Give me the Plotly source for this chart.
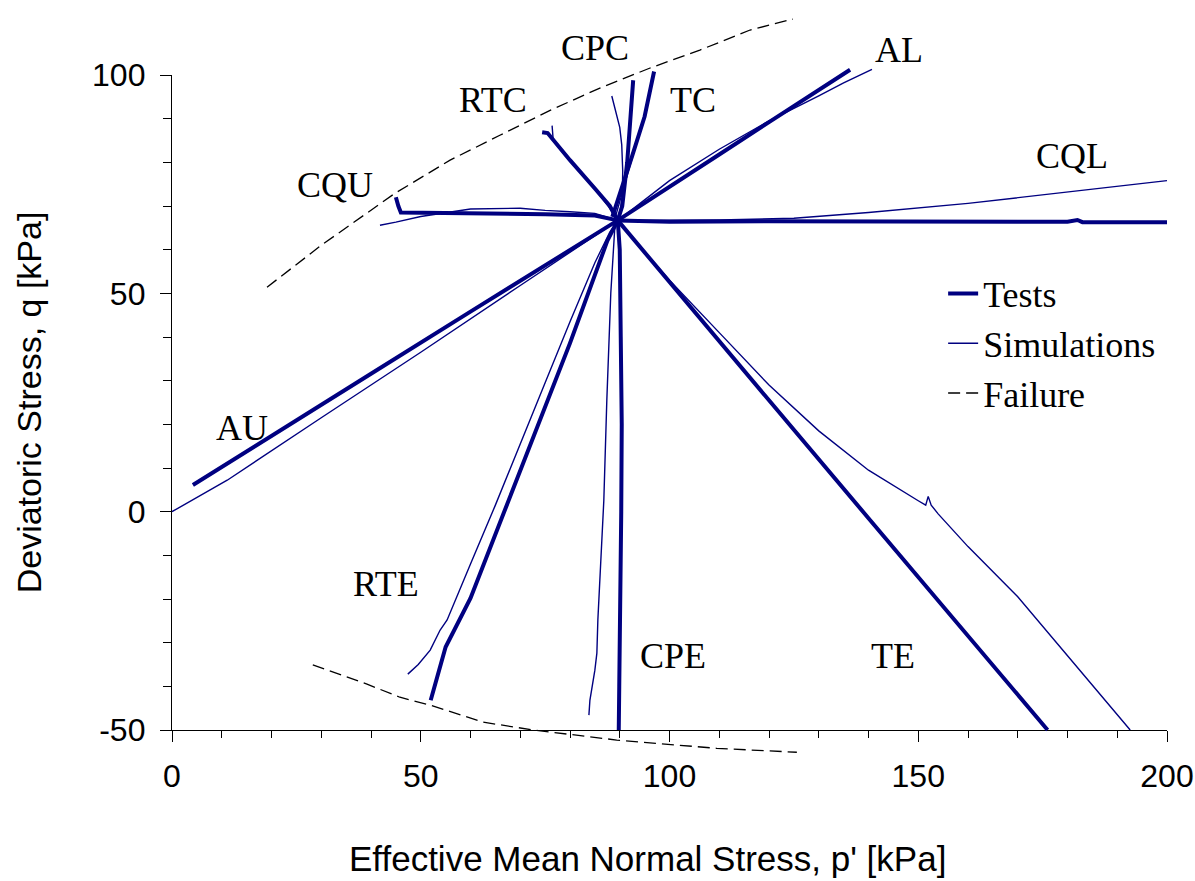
import plotly.graph_objects as go

# ---------------- data (p', q) in kPa ----------------
# Tests (thick lines)
AU_test_p = [89.6, 80, 60, 40, 20, 4.2]
AU_test_q = [66.7, 60.0, 45.8, 31.6, 17.3, 6.1]
CQU_test_p = [89.6, 85, 75, 60, 50, 46, 45.5, 45.0]
CQU_test_q = [66.7, 67.8, 68.1, 68.2, 68.3, 68.5, 70.0, 72.0]
RTC_test_p = [89.6, 88, 85, 80, 75.5, 74.4]
RTC_test_q = [66.7, 70.0, 74.0, 80.5, 86.7, 86.9]
CPC_test_p = [89.6, 90.5, 91.5, 92.2, 92.7]
CPC_test_q = [66.7, 70.0, 80.0, 90.0, 98.8]
TC_test_p = [88.5, 90.0, 92.5, 95.0, 96.9]
TC_test_q = [67.5, 72.5, 81.5, 90.5, 100.8]
AL_test_p = [89.6, 100, 110, 120, 130, 136.3]
AL_test_q = [66.7, 74.5, 81.8, 89.2, 96.4, 101.2]
CQL_test_p = [89.6, 100, 120, 140, 160, 180, 182, 183, 200]
CQL_test_q = [66.7, 66.4, 66.5, 66.4, 66.5, 66.4, 66.8, 66.3, 66.3]
TE_test_p = [89.6, 100, 120, 140, 160, 176]
TE_test_q = [66.7, 52.5, 25.5, -1.5, -28.5, -50]
CPE_test_p = [89.6, 90.0, 90.2, 90.4, 90.3, 90.0, 89.9, 89.8]
CPE_test_q = [66.7, 60, 40, 20, 0, -20, -40, -50]
RTE_test_p = [89.6, 87.5, 80, 70, 60, 55, 52]
RTE_test_q = [66.7, 62.0, 38.6, 9.4, -19.8, -31.0, -43.2]

# Simulations (thin lines)
AU_sim_p = [0, 5, 11.1, 30, 50, 70, 85, 89.6]
AU_sim_q = [0, 3.3, 7.2, 21.5, 36.5, 51.8, 63.2, 66.7]
CQU_sim_p = [41.8, 45, 50, 55, 60, 70, 75, 80, 85, 89.6]
CQU_sim_q = [65.6, 66.3, 67.6, 68.5, 69.3, 69.5, 69.0, 68.7, 68.3, 66.7]
RTC_sim_p = [89, 86, 82, 78, 76.6, 76.4]
RTC_sim_q = [68, 72.5, 78, 83, 85.5, 88.4]
CPC_sim_p = [89.8, 90.5, 90.6, 90.4, 90.0, 89.5, 89.0, 88.4]
CPC_sim_q = [67, 72, 78, 84, 88, 90, 92.5, 95.2]
TC_sim_p = [89, 90.5, 93, 95.5, 96.5]
TC_sim_q = [67, 73, 83, 93, 99.5]
AL_sim_p = [90, 95, 100, 110, 120, 130, 135, 140.7]
AL_sim_q = [67, 71.5, 75.8, 83, 89.5, 95.2, 98.2, 101.3]
CQL_sim_p = [89.6, 110, 125, 140, 160, 180, 200]
CQL_sim_q = [66.7, 66.8, 67.2, 68.5, 70.6, 73.2, 75.8]
TE_sim_p = [90, 100, 110, 120, 130, 140, 150, 151.5, 152.0, 152.6, 154, 160, 170, 180, 192.6]
TE_sim_q = [66, 53, 41, 29, 18.5, 9.5, 2.5, 1.5, 3.5, 1.5, -0.5, -8, -19.5, -33, -50]
CPE_sim_p = [89.0, 88.2, 87.4, 86.8, 85.6, 85.4, 85.0, 84.0, 83.8]
CPE_sim_q = [65, 50, 25.5, 2.6, -24.8, -32.4, -36.3, -43.2, -46.6]
RTE_sim_p = [89.6, 88, 85, 80, 75, 70, 65, 60, 55.3, 53.9, 51.9, 49.5, 47.4]
RTE_sim_q = [66.7, 64, 57, 43.5, 29.5, 15.5, 1.5, -12, -24.8, -27.1, -31.7, -35, -37.2]

# Failure lines (dashed)
FAIL_up_p = [19.1, 30, 44.8, 55.9, 65.9, 76.0, 86.0, 96.1, 106.1, 116.2, 124.8]
FAIL_up_q = [51.4, 61.0, 72.9, 80.5, 86.2, 91.9, 97.0, 101.6, 105.7, 110.3, 112.8]
FAIL_lo_p = [28.3, 35.8, 39.2, 45.8, 51.9, 62.5, 72.6, 89.4, 99.5, 109.5, 125.6]
FAIL_lo_q = [-35.1, -38.1, -39.5, -42.5, -44.3, -48.2, -50.0, -52.3, -53.2, -54.2, -55.1]

# Path labels
label_text = ["CPC", "RTC", "TC", "AL", "CQU", "CQL", "AU", "RTE", "CPE", "TE"]
label_p = [85.0, 64.5, 104.7, 146.1, 32.8, 180.9, 14.1, 43.0, 100.7, 144.9]
label_q = [106.1, 94.2, 94.2, 105.7, 74.8, 81.4, 19.1, -16.6, -33.1, -33.1]

# Tick labels
x_tick_vals = [0, 50, 100, 150, 200]
x_tick_text = ["0", "50", "100", "150", "200"]
y_tick_vals = [-50, 0, 50, 100]
y_tick_text = ["-50", "0", "50", "100"]

NAVY = "#000080"
SANS = "Liberation Sans, Arial, sans-serif"
SERIF = "Liberation Serif, Times New Roman, serif"

fig = go.Figure()

# empty trace so the visible axis box (x / y) is registered as a subplot
fig.add_trace(go.Scatter(x=[None], y=[None], xaxis="x", yaxis="y", mode="lines",
                         showlegend=False, hoverinfo="skip"))

tests = [(AU_test_p, AU_test_q), (CQU_test_p, CQU_test_q), (RTC_test_p, RTC_test_q),
         (CPC_test_p, CPC_test_q), (TC_test_p, TC_test_q), (AL_test_p, AL_test_q),
         (CQL_test_p, CQL_test_q), (TE_test_p, TE_test_q), (CPE_test_p, CPE_test_q),
         (RTE_test_p, RTE_test_q)]
sims = [(AU_sim_p, AU_sim_q), (CQU_sim_p, CQU_sim_q), (RTC_sim_p, RTC_sim_q),
        (CPC_sim_p, CPC_sim_q), (TC_sim_p, TC_sim_q), (AL_sim_p, AL_sim_q),
        (CQL_sim_p, CQL_sim_q), (TE_sim_p, TE_sim_q), (CPE_sim_p, CPE_sim_q),
        (RTE_sim_p, RTE_sim_q)]

for i, (p, q) in enumerate(sims):
    fig.add_trace(go.Scatter(x=p, y=q, mode="lines", xaxis="x", yaxis="y2",
                             line=dict(color=NAVY, width=1.4),
                             name="Simulations", legendgroup="sim",
                             showlegend=(i == 0), legendrank=2))
for i, (p, q) in enumerate(tests):
    fig.add_trace(go.Scatter(x=p, y=q, mode="lines", xaxis="x", yaxis="y2",
                             line=dict(color=NAVY, width=4),
                             name="Tests", legendgroup="test",
                             showlegend=(i == 0), legendrank=1))
for i, (p, q) in enumerate([(FAIL_up_p, FAIL_up_q), (FAIL_lo_p, FAIL_lo_q)]):
    fig.add_trace(go.Scatter(x=p, y=q, mode="lines", xaxis="x", yaxis="y2",
                             line=dict(color="black", width=1.3, dash="12px,6px"),
                             name="Failure", legendgroup="fail",
                             showlegend=(i == 0), legendrank=3))

for t, p, q in zip(label_text, label_p, label_q):
    fig.add_annotation(x=p, y=q, xref="x", yref="y2", text=t, showarrow=False,
                       font=dict(family=SERIF, size=36, color="black"))

# x-axis title (placed slightly left of centre, as in the original)
fig.add_annotation(x=0.478, y=-0.1307, xref="paper", yref="paper",
                   text="Effective Mean Normal Stress, p' [kPa]", showarrow=False,
                   xanchor="center", yanchor="middle",
                   font=dict(family=SANS, size=35, color="black"))

# plot-area geometry: full data area spans 750 px; visible axis box is a sub-part
Y_LO, Y_HI = -50, 100
PX_PER = 655 / 150.0
TOP_EXTRA = 65 / PX_PER
BOT_EXTRA = 30 / PX_PER

fig.update_layout(
    width=1195, height=881,
    margin=dict(l=172, r=28, t=10, b=121, autoexpand=False),
    paper_bgcolor="white", plot_bgcolor="rgba(0,0,0,0)",
    xaxis=dict(range=[0, 200], domain=[0, 1], anchor="y", automargin=False,
               tickmode="array", tickvals=x_tick_vals, ticktext=x_tick_text,
               ticks="outside", ticklen=11, tickwidth=1.3, tickcolor="black",
               ticklabelstandoff=6,
               minor=dict(tickmode="linear", tick0=0, dtick=10, ticks="outside",
                          ticklen=7, tickwidth=1.3, tickcolor="black"),
               showline=True, linecolor="black", linewidth=1.3,
               showgrid=False, zeroline=False,
               tickfont=dict(family=SANS, size=32, color="black")),
    yaxis=dict(range=[Y_LO, Y_HI], domain=[30 / 750, 685 / 750], anchor="x",
               automargin=False,
               tickmode="array", tickvals=y_tick_vals, ticktext=y_tick_text,
               ticks="outside", ticklen=11, tickwidth=1.3, tickcolor="black",
               ticklabelstandoff=8,
               minor=dict(tickmode="linear", tick0=0, dtick=10, ticks="outside",
                          ticklen=8, tickwidth=1.3, tickcolor="black"),
               showline=True, linecolor="black", linewidth=1.3,
               showgrid=False, zeroline=False,
               tickfont=dict(family=SANS, size=32, color="black"),
               title=dict(text="Deviatoric Stress, q [kPa]",
                          font=dict(family=SANS, size=34, color="black"),
                          standoff=40)),
    yaxis2=dict(range=[Y_LO - BOT_EXTRA, Y_HI + TOP_EXTRA], domain=[0, 1],
                anchor="x", visible=False, showgrid=False, zeroline=False,
                automargin=False),
    legend=dict(x=0.775, y=0.662, xanchor="left", yanchor="top",
                bgcolor="rgba(0,0,0,0)", borderwidth=0,
                font=dict(family=SERIF, size=36, color="black"),
                tracegroupgap=0, traceorder="normal"),
    showlegend=True,
)

fig.write_html("out.html")
